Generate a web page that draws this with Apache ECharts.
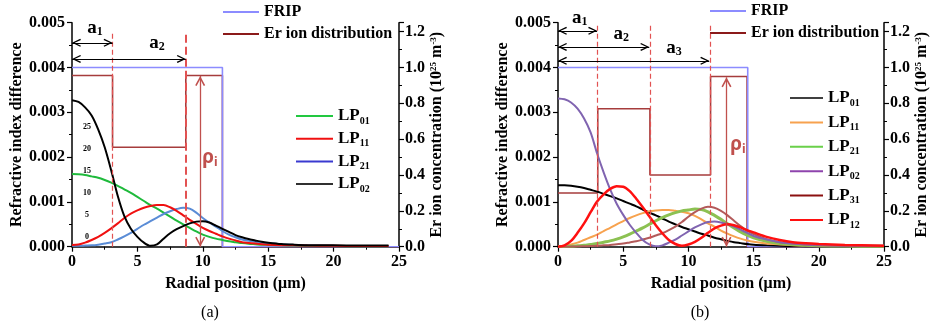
<!DOCTYPE html>
<html>
<head>
<meta charset="utf-8">
<script src="https://cdn.jsdelivr.net/npm/echarts@6/dist/echarts.min.js"></script>
<style>
  html, body { margin: 0; padding: 0; background: #fff; }
  #main { width: 931px; height: 328px; }
</style>
</head>
<body>
<div id="main"></div>
<script>
// refractive index difference in units of 1e-3
var rA = [0,0.5,1,1.5,2,2.5,3,3.5,4,4.5,5,5.5,6,6.5,7,7.5,8,8.5,9,9.5,10,10.5,11,11.5,12,12.5,13,13.5,14,14.5,15,16,17,18,20,22,24.2];
var lp01A = [1.62,1.615,1.60,1.57,1.54,1.49,1.43,1.36,1.28,1.20,1.11,1.02,0.93,0.85,0.76,0.67,0.58,0.50,0.42,0.34,0.27,0.22,0.18,0.15,0.12,0.10,0.08,0.065,0.055,0.045,0.04,0.03,0.025,0.02,0.015,0.01,0.01];
var lp11A = [0.04,0.05,0.09,0.15,0.22,0.31,0.41,0.52,0.64,0.74,0.81,0.87,0.91,0.93,0.93,0.88,0.80,0.70,0.60,0.51,0.42,0.35,0.29,0.23,0.18,0.14,0.10,0.085,0.07,0.055,0.045,0.035,0.03,0.025,0.02,0.015,0.015];
var lp21A = [0.02,0.02,0.025,0.03,0.045,0.07,0.10,0.16,0.23,0.31,0.40,0.49,0.57,0.65,0.73,0.79,0.84,0.87,0.85,0.76,0.64,0.54,0.45,0.35,0.27,0.21,0.16,0.13,0.11,0.09,0.08,0.055,0.04,0.03,0.02,0.015,0.015];
var lp02A = [3.27,3.23,3.11,2.93,2.62,2.22,1.70,1.13,0.68,0.40,0.22,0.09,0.02,0.05,0.18,0.30,0.39,0.46,0.52,0.56,0.57,0.54,0.47,0.40,0.33,0.26,0.21,0.17,0.14,0.11,0.09,0.06,0.045,0.035,0.03,0.025,0.025];
var fripRA = [0,11.5,11.5,25];
var fripVA = [4,4,0,0];
var erRA = [0,3.1,3.1,8.7,8.7,11.5,11.5,25];
var erVA = [0.955,0.955,0.555,0.555,0.955,0.955,0,0];

var rB = [0,0.5,1,1.5,2,2.5,3,3.5,4,4.5,5,5.5,6,6.5,7,7.5,8,8.5,9,9.5,10,10.5,11,11.5,12,12.5,13,13.5,14,14.5,15,16,17,18,19,20,22,25];
var lp01B = [1.37,1.37,1.36,1.34,1.31,1.27,1.23,1.18,1.13,1.08,1.02,0.96,0.90,0.83,0.76,0.70,0.63,0.56,0.50,0.44,0.39,0.34,0.29,0.25,0.20,0.165,0.13,0.10,0.08,0.06,0.045,0.03,0.02,0.015,0.012,0.01,0.01,0.01];
var lp11B = [0.01,0.02,0.05,0.09,0.15,0.21,0.27,0.35,0.42,0.50,0.57,0.64,0.70,0.75,0.79,0.81,0.82,0.82,0.80,0.78,0.745,0.69,0.61,0.52,0.45,0.36,0.29,0.23,0.18,0.14,0.11,0.07,0.05,0.035,0.025,0.02,0.015,0.01];
var lp21B = [0.005,0.006,0.01,0.02,0.03,0.05,0.07,0.10,0.13,0.17,0.22,0.28,0.35,0.42,0.50,0.58,0.65,0.71,0.76,0.80,0.82,0.84,0.83,0.78,0.70,0.61,0.51,0.42,0.33,0.26,0.20,0.12,0.07,0.05,0.03,0.02,0.015,0.01];
var lp02B = [3.31,3.29,3.22,3.08,2.86,2.55,2.08,1.66,1.28,0.96,0.71,0.49,0.31,0.15,0.05,0.01,0.03,0.09,0.16,0.25,0.34,0.43,0.50,0.55,0.56,0.54,0.50,0.45,0.38,0.31,0.24,0.16,0.10,0.07,0.05,0.04,0.025,0.02];
var lp31B = [0,0,0.002,0.005,0.01,0.015,0.02,0.03,0.04,0.055,0.07,0.095,0.12,0.16,0.20,0.25,0.30,0.37,0.45,0.55,0.67,0.77,0.85,0.89,0.87,0.80,0.70,0.58,0.46,0.36,0.28,0.17,0.10,0.07,0.05,0.03,0.02,0.01];
var lp12B = [0,0.03,0.13,0.31,0.52,0.77,1.01,1.17,1.29,1.35,1.34,1.24,1.07,0.88,0.68,0.48,0.30,0.15,0.06,0.02,0.05,0.11,0.20,0.31,0.41,0.47,0.50,0.48,0.43,0.37,0.32,0.22,0.15,0.10,0.075,0.06,0.04,0.02];
var fripRB = [0,14.55,14.55,25];
var fripVB = [4,4,0,0];
var erRB = [0,3.05,3.05,7.05,7.05,11.7,11.7,14.5,14.5,25];
var erVB = [0.3,0.3,0.77,0.77,0.4,0.4,0.95,0.95,0,0];

var xTicks = [0, 25, 5];
var leftTicks = [0, 5, 1];
var rightTicks = [0, 1.25, 0.2];
var strayLabels = ['25', '20', '15', '10', '5', '0'];

var SERIF = 'Liberation Serif';
// open arrow head, tip at the centre of its box so it ends exactly on the line end
var chevron = 'path://M0,10 L5,0 L10,10 L8.6,10.9 L5,3.4 L1.4,10.9 Z M5,-10.9 L5.02,-10.9 L5,-10.88 Z';

function pts(xs, ys) {
    return xs.map(function(x, i) { return [x, ys[i]]; });
}

var chart = echarts.init(document.getElementById('main'));

var tickFont = { fontFamily: SERIF, fontWeight: 'bold', fontSize: 16, color: '#000' };
var nameFont = { fontFamily: SERIF, fontWeight: 'bold', fontSize: 16, color: '#000' };

function xAx(gi) {
    return {
        type: 'value', gridIndex: gi, min: xTicks[0], max: xTicks[1], interval: xTicks[2],
        name: 'Radial position (μm)', nameLocation: 'middle', nameGap: 29,
        nameTextStyle: nameFont,
        axisLine: { lineStyle: { color: '#000', width: 1.5 } },
        axisTick: { length: 5, lineStyle: { color: '#000', width: 1.2 } },
        minorTick: { show: true, splitNumber: 2, length: 3, lineStyle: { color: '#000' } },
        splitLine: { show: false },
        axisLabel: Object.assign({ margin: 7 }, tickFont)
    };
}
function leftAx(gi) {
    return {
        type: 'value', gridIndex: gi, position: 'left', min: leftTicks[0], max: leftTicks[1], interval: leftTicks[2],
        name: 'Refractive index difference', nameLocation: 'middle', nameGap: 47,
        nameTextStyle: nameFont,
        axisLine: { show: true, lineStyle: { color: '#000', width: 1.5 } },
        axisTick: { show: true, length: 5, lineStyle: { color: '#000', width: 1.2 } },
        minorTick: { show: true, splitNumber: 2, length: 3, lineStyle: { color: '#000' } },
        splitLine: { show: false },
        axisLabel: Object.assign({ margin: 7, formatter: function(v) { return (v / 1000).toFixed(3); } }, tickFont)
    };
}
function rightAx(gi, gap) {
    return {
        type: 'value', gridIndex: gi, position: 'right', min: rightTicks[0], max: rightTicks[1], interval: rightTicks[2],
        name: 'Er ion concentration (10{sup|25} m{sup|-3})', nameLocation: 'middle', nameGap: gap,
        nameTextStyle: Object.assign({
            rich: { sup: { fontFamily: SERIF, fontWeight: 'bold', fontSize: 9, verticalAlign: 'top', color: '#000' } }
        }, nameFont),
        axisLine: { show: true, lineStyle: { color: '#000', width: 1.5 } },
        axisTick: { show: true, length: 5, lineStyle: { color: '#000', width: 1.2 } },
        minorTick: { show: true, splitNumber: 2, length: 3, lineStyle: { color: '#000' } },
        splitLine: { show: false },
        axisLabel: Object.assign({ margin: 6, formatter: function(v) { return v > 1.21 ? '' : v.toFixed(1); } }, tickFont)
    };
}

function mode(name, xs, ys, color, width, gi) {
    return {
        name: name, type: 'line', xAxisIndex: gi, yAxisIndex: gi * 2,
        data: pts(xs, ys), smooth: 0.3, symbol: 'none',
        lineStyle: { color: color, width: width }, itemStyle: { color: color }
    };
}
function step(name, xs, ys, color, gi, yi, width) {
    return {
        name: name, type: 'line', xAxisIndex: gi, yAxisIndex: yi,
        data: pts(xs, ys), symbol: 'none',
        lineStyle: { color: color, width: width }, itemStyle: { color: color }
    };
}

function dashed(x, yTop, w, dash) {
    return [{ coord: [x, 0], symbol: 'none', lineStyle: { type: dash, color: '#e25252', width: w } },
            { coord: [x, yTop], symbol: 'none' }];
}
function span(x0, x1, y, color) {
    return [{ coord: [x0, y], symbol: chevron, symbolSize: [8, 18], itemStyle: { color: color }, lineStyle: { type: 'solid', color: color, width: 1 } },
            { coord: [x1, y], symbol: chevron, symbolSize: [8, 18], itemStyle: { color: color } }];
}
function vspan(x, y0, y1, color) {
    return [{ coord: [x, y0], symbol: chevron, symbolSize: [10, 20], itemStyle: { color: color }, lineStyle: { type: 'solid', color: color, width: 1.3 } },
            { coord: [x, y1], symbol: chevron, symbolSize: [10, 20], itemStyle: { color: color } }];
}

// annotations live on the FRIP series, which uses the left axis
var fripA = step('FRIP', fripRA, fripVA, '#8c8cff', 0, 0, 1.6);
fripA.markLine = {
    silent: true, animation: false, label: { show: false },
    data: [dashed(3.1, 4.79, 1.2, [5, 3]), dashed(8.7, 4.75, 2, [8, 4]), span(0, 3.1, 4.55, '#000'), span(0, 8.7, 4.19, '#000'),
           vspan(9.8, 3.81, 0, '#c0504d')]
};
var fripB = step('FRIP ', fripRB, fripVB, '#8c8cff', 1, 2, 1.6);
fripB.markLine = {
    silent: true, animation: false, label: { show: false },
    data: [dashed(3.02, 5, 1.2, [5, 3]), dashed(7.04, 5, 1.2, [5, 3]), dashed(11.64, 5, 1.2, [5, 3]),
           span(0, 3.0, 4.82, '#000'), span(0, 7.0, 4.46, '#000'), span(0, 11.6, 4.15, '#000'),
           vspan(12.92, 3.78, 0, '#c0504d')]
};

var series = [
    step('Er ion distribution', erRA, erVA, '#a63c3c', 0, 1, 1.6),
    fripA,
    mode('LP01a', rA, lp01A, '#1fba3c', 2, 0),
    mode('LP21a', rA, lp21A, '#5a8cd6', 2, 0),
    mode('LP11a', rA, lp11A, '#f01010', 2, 0),
    mode('LP02a', rA, lp02A, '#000000', 2, 0),
    step('Er ion distribution ', erRB, erVB, '#a63c3c', 1, 3, 1.6),
    fripB,
    mode('LP01b', rB, lp01B, '#000000', 2, 1),
    mode('LP11b', rB, lp11B, '#f7a24e', 2, 1),
    mode('LP21b', rB, lp21B, '#8cc152', 3, 1),
    mode('LP31b', rB, lp31B, '#b35a5a', 2, 1),
    mode('LP02b', rB, lp02B, '#8064b0', 2, 1),
    mode('LP12b', rB, lp12B, '#ff1010', 2.5, 1)
];

var legendText = {
    fontFamily: SERIF, fontWeight: 'bold', fontSize: 16, color: '#000', lineHeight: 20,
    rich: {
        m: { fontFamily: SERIF, fontWeight: 'bold', fontSize: 17, color: '#000', lineHeight: 20 },
        s: { fontFamily: SERIF, fontWeight: 'bold', fontSize: 10, color: '#000', lineHeight: 8, verticalAlign: 'bottom' }
    }
};
function legend(names, colors, left, top, gap, w, sub) {
    return {
        orient: 'vertical', left: left, top: top, itemGap: gap, itemWidth: w, itemHeight: 2,
        icon: 'rect', selectedMode: false, padding: 0,
        data: names.map(function(n, i) { return { name: n, itemStyle: { color: colors[i] } }; }),
        formatter: sub ? function(n) { return '{m|LP}{s|' + n.slice(2, 4) + '}'; } : function(n) { return n.trim(); },
        textStyle: legendText
    };
}

chart.setOption({
    animation: false,
    grid: [
        { left: 72, top: 22.7, width: 327, height: 224 },
        { left: 558, top: 22.7, width: 326, height: 224 }
    ],
    xAxis: [xAx(0), xAx(1)],
    yAxis: [leftAx(0), rightAx(0, 30), leftAx(1), rightAx(1, 25)],
    legend: [
        legend(['FRIP', 'Er ion distribution'], ['#8c8cff', '#8b1a1a'], 223, 2, 2, 36, false),
        legend(['LP01a', 'LP11a', 'LP21a', 'LP02a'], ['#22c840', '#f01010', '#3a3ad0', '#303030'], 296, 106, 2.7, 37, true),
        legend(['FRIP ', 'Er ion distribution '], ['#8c8cff', '#8b1a1a'], 710, 1, 2, 36, false),
        legend(['LP01b', 'LP11b', 'LP21b', 'LP02b', 'LP31b', 'LP12b'], ['#404040', '#f7a24e', '#6ad04a', '#8e44ad', '#8b1010', '#ff1010'], 790, 88, 4.4, 33, true)
    ],
    series: series
});

// annotation labels placed in data coordinates
function at(gi, x, y) {
    return chart.convertToPixel({ xAxisIndex: gi, yAxisIndex: gi * 2 }, [x, y]);
}
var aRich = {
    m: { fontFamily: SERIF, fontWeight: 'bold', fontSize: 19, fill: '#000', lineHeight: 20 },
    s: { fontFamily: SERIF, fontWeight: 'bold', fontSize: 12, fill: '#000', lineHeight: 10, verticalAlign: 'bottom' }
};
var rhoRich = {
    m: { fontFamily: 'Noto Sans', fontWeight: 'bold', fontSize: 19, fill: '#c0504d', lineHeight: 22 },
    s: { fontFamily: 'Noto Sans', fontWeight: 'bold', fontSize: 12, fill: '#c0504d', lineHeight: 12, verticalAlign: 'bottom' }
};
function tag(p, text, rich) {
    return { type: 'text', x: p[0], y: p[1], style: { text: text, rich: rich, align: 'center', verticalAlign: 'middle' } };
}
var g = [
    tag(at(0, 1.76, 4.88), '{m|a}{s|1}', aRich),
    tag(at(0, 6.5, 4.55), '{m|a}{s|2}', aRich),
    tag(at(1, 1.67, 5.1), '{m|a}{s|1}', aRich),
    tag(at(1, 4.85, 4.75), '{m|a}{s|2}', aRich),
    tag(at(1, 8.9, 4.43), '{m|a}{s|3}', aRich),
    tag(at(0, 10.55, 2.0), '{m|ρ}{s|i}', rhoRich),
    tag(at(1, 13.8, 2.27), '{m|ρ}{s|i}', rhoRich),
    { type: 'text', x: 210, y: 313, style: { text: '(a)', font: '16px "Liberation Serif"', fill: '#000', align: 'center', verticalAlign: 'middle' } },
    { type: 'text', x: 700, y: 313, style: { text: '(b)', font: '16px "Liberation Serif"', fill: '#000', align: 'center', verticalAlign: 'middle' } }
];
strayLabels.forEach(function(t, i) {
    g.push({ type: 'text', x: 87, y: 127 + i * 22, style: { text: t, font: 'bold 8px "Liberation Serif"', fill: '#000', align: 'center', verticalAlign: 'middle' } });
});
chart.setOption({ graphic: g });
</script>
</body>
</html>
